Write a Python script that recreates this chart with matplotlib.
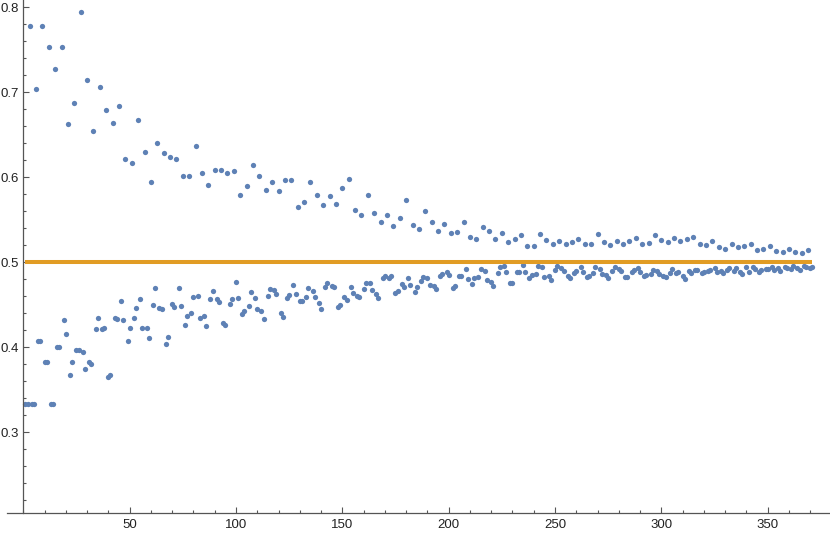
import numpy as np
import matplotlib
matplotlib.use("Agg")
import matplotlib.pyplot as plt
from matplotlib.ticker import FixedLocator, MultipleLocator

plt.rcParams["font.family"] = ["Liberation Sans", "DejaVu Sans"]

point_color = "#5E81B5"
line_color = "#E19C24"
axis_color = "#555555"

# upper branch: n = 3, 6, 9, ..., 369
upper_vals = [
    0.778, 0.7035, 0.778, 0.753, 0.728, 0.753, 0.663, 0.687, 0.794, 0.714,
    0.654, 0.706, 0.679, 0.664, 0.684, 0.621, 0.617, 0.667, 0.630, 0.595,
    0.640, 0.629, 0.624, 0.622, 0.601, 0.601, 0.637, 0.605, 0.591, 0.609,
    0.609, 0.605, 0.608, 0.579, 0.590, 0.615, 0.601, 0.585, 0.594, 0.584,
    0.5965, 0.597, 0.565, 0.571, 0.595, 0.579, 0.567, 0.578, 0.569, 0.587,
    0.598, 0.561, 0.556, 0.5795, 0.558, 0.548, 0.556, 0.543, 0.552, 0.573,
    0.5435, 0.539, 0.560, 0.548, 0.537, 0.545, 0.5345, 0.536, 0.548, 0.530,
    0.527, 0.5415, 0.537, 0.528, 0.5345, 0.524, 0.527, 0.5325, 0.5195, 0.5195,
    0.533, 0.526, 0.5215, 0.525, 0.5215, 0.5235, 0.527, 0.521, 0.5215, 0.533,
    0.5235, 0.520, 0.525, 0.522, 0.525, 0.5286, 0.521, 0.523, 0.532, 0.526,
    0.524, 0.529, 0.525, 0.528, 0.530, 0.521, 0.520, 0.525, 0.518, 0.516,
    0.521, 0.518, 0.5195, 0.522, 0.515, 0.5156, 0.519, 0.513, 0.512, 0.5156,
    0.512, 0.511, 0.515,
]
upper_x = np.arange(3, 370, 3)

# lower branch: n = 1, 2, 4, 5, 7, 8, ..., 370, 371 (pairs)
lower_vals = [
    0.333, 0.333, 0.333, 0.333, 0.408, 0.408, 0.383, 0.383, 0.333, 0.333,
    0.400, 0.400, 0.4325, 0.416, 0.367, 0.383, 0.397, 0.397, 0.394, 0.375,
    0.383, 0.380, 0.421, 0.435, 0.421, 0.423, 0.3655, 0.3675, 0.435, 0.433,
    0.4545, 0.4325, 0.407, 0.423, 0.434, 0.446, 0.4565, 0.4224, 0.4224, 0.4106,
    0.4498, 0.4694, 0.446, 0.445, 0.404, 0.412, 0.4506, 0.4478, 0.470, 0.449,
    0.426, 0.437, 0.4407, 0.4588, 0.4604, 0.4341, 0.4372, 0.4254, 0.4572, 0.4662,
    0.4568, 0.4529, 0.4282, 0.4266, 0.4506, 0.4568, 0.4772, 0.4576, 0.4392, 0.4427,
    0.449, 0.4647, 0.458, 0.4447, 0.4431, 0.4329, 0.4604, 0.4686, 0.4674, 0.4631,
    0.4404, 0.436, 0.458, 0.4612, 0.4737, 0.4627, 0.4541, 0.4545, 0.4595, 0.4694,
    0.4666, 0.4592, 0.4518, 0.4451, 0.4706, 0.476, 0.4725, 0.4713, 0.4478, 0.4498,
    0.4588, 0.4556, 0.4713, 0.4642, 0.4604, 0.4595, 0.4686, 0.4753, 0.4753, 0.4671,
    0.4624, 0.4576, 0.4812, 0.4839, 0.4819, 0.4839, 0.4635, 0.4662, 0.4741, 0.4713,
    0.4819, 0.4737, 0.4651, 0.4706, 0.4784, 0.4831, 0.4815, 0.4729, 0.4718, 0.4682,
    0.4839, 0.4866, 0.4882, 0.4854, 0.4698, 0.4725, 0.4842, 0.4839, 0.4918, 0.4807,
    0.4745, 0.4812, 0.4827, 0.4918, 0.4898, 0.4792, 0.4765, 0.4718, 0.4871, 0.4948,
    0.4956, 0.4882, 0.4753, 0.4753, 0.4882, 0.489, 0.4968, 0.4882, 0.4819, 0.4854,
    0.4859, 0.496, 0.4941, 0.4831, 0.4835, 0.4788, 0.4906, 0.4953, 0.4937, 0.4901,
    0.4839, 0.4819, 0.4878, 0.4898, 0.4948, 0.4886, 0.4831, 0.4839, 0.4871, 0.4948,
    0.4925, 0.4863, 0.4855, 0.4812, 0.4894, 0.4941, 0.4921, 0.4898, 0.4831, 0.4823,
    0.4889, 0.4909, 0.4929, 0.4889, 0.4839, 0.4851, 0.4863, 0.4909, 0.4898, 0.4863,
    0.4843, 0.4823, 0.4871, 0.4917, 0.4878, 0.4889, 0.4839, 0.480, 0.4898, 0.4871,
    0.4909, 0.4909, 0.4871, 0.4882, 0.4898, 0.4909, 0.4929, 0.4882, 0.4898, 0.4878,
    0.4909, 0.4937, 0.4898, 0.4929, 0.4889, 0.4859, 0.4948, 0.4889, 0.4941, 0.4918,
    0.4882, 0.4909, 0.4921, 0.4921, 0.4948, 0.4909, 0.4929, 0.4901, 0.4948, 0.4929,
    0.4918, 0.4956, 0.4929, 0.4909, 0.4956, 0.4948, 0.4937, 0.4948,
]
lower_x = np.array([n for n in range(1, 372) if n % 3 != 0])

ref_level = 0.5
ref_x = [1, 371]

x_major = [50, 100, 150, 200, 250, 300, 350]
y_major = [0.3, 0.4, 0.5, 0.6, 0.7, 0.8]

fig = plt.figure(figsize=(8.3, 5.34), dpi=100)
ax = fig.add_axes([7 / 830, 21 / 534, 823 / 830, 513 / 534])

ax.plot(upper_x, upper_vals, "o", color=point_color, markersize=3.8,
        markeredgewidth=0, zorder=2)
ax.plot(lower_x, lower_vals, "o", color=point_color, markersize=3.8,
        markeredgewidth=0, zorder=2)
ax.plot(ref_x, [ref_level, ref_level], color=line_color, linewidth=2.9,
        solid_capstyle="butt", zorder=3)

ax.set_xlim(-7.66, 379.3)
ax.set_ylim(0.20506, 0.80859)

for side in ["top", "right"]:
    ax.spines[side].set_visible(False)
ax.spines["left"].set_position(("data", 0))
for side in ["left", "bottom"]:
    ax.spines[side].set_color(axis_color)
    ax.spines[side].set_linewidth(0.9)

ax.xaxis.set_major_locator(FixedLocator(x_major))
ax.xaxis.set_minor_locator(MultipleLocator(10))
ax.yaxis.set_major_locator(FixedLocator(y_major))
ax.yaxis.set_minor_locator(MultipleLocator(0.02))
ax.set_yticklabels(["0.3", "0.4", "0.5", "0.6", "0.7", "0.8"])

ax.tick_params(which="both", direction="in", color=axis_color, width=0.8,
               labelsize=9.5, labelcolor="#222222")
ax.tick_params(which="major", length=4)
ax.tick_params(which="minor", length=2.2)
ax.tick_params(axis="x", pad=4)
ax.tick_params(axis="y", pad=3)

fig.savefig("out.png", dpi=100)
